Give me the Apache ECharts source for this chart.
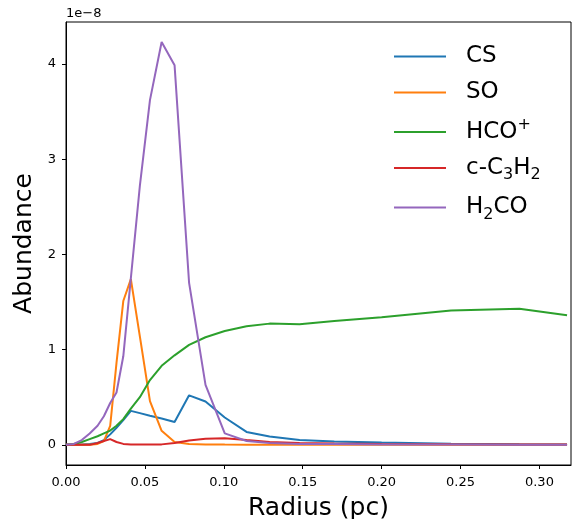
<!DOCTYPE html>
<html>
<head>
<meta charset="utf-8">
<script src="https://cdn.jsdelivr.net/npm/echarts@6/dist/echarts.min.js"></script>
<style>
  html, body { margin: 0; padding: 0; background: #fff; }
  #chart { width: 576px; height: 519px; }
</style>
</head>
<body>
<div id="chart"></div>
<script>
// Radial grid (pc) and abundances in units of 1e-8
const radius = [0, 0.005, 0.01, 0.015, 0.02, 0.024, 0.028, 0.032, 0.0363, 0.0411, 0.0468, 0.0532, 0.0606, 0.0688, 0.078, 0.0884, 0.1006, 0.1144, 0.129, 0.148, 0.17, 0.2, 0.244, 0.2873, 0.3175];
const csAbund   = [0, 0, 0.005, 0.01, 0.02, 0.05, 0.11, 0.18, 0.26, 0.357, 0.333, 0.306, 0.276, 0.24, 0.52, 0.455, 0.287, 0.136, 0.088, 0.05, 0.035, 0.025, 0.012, 0.006, 0.004];
const soAbund   = [0, 0, 0, 0, 0.01, 0.04, 0.2, 0.86, 1.51, 1.74, 1.14, 0.46, 0.147, 0.03, 0.01, 0.005, 0.003, 0.002, 0.002, 0.002, 0.002, 0.002, 0.002, 0.002, 0.002];
const hcoAbund  = [0, 0.01, 0.03, 0.06, 0.09, 0.12, 0.15, 0.2, 0.27, 0.38, 0.5, 0.68, 0.83, 0.94, 1.05, 1.13, 1.195, 1.245, 1.273, 1.266, 1.30, 1.34, 1.41, 1.43, 1.36];
const c3h2Abund = [0, 0, 0, 0, 0.02, 0.04, 0.06, 0.03, 0.01, 0.005, 0.003, 0.003, 0.005, 0.02, 0.045, 0.065, 0.07, 0.05, 0.03, 0.02, 0.015, 0.01, 0.006, 0.004, 0.003];
const h2coAbund = [0, 0.01, 0.05, 0.12, 0.2, 0.3, 0.44, 0.55, 0.93, 1.75, 2.72, 3.62, 4.23, 3.985, 1.7, 0.63, 0.12, 0.04, 0.02, 0.01, 0.008, 0.005, 0.003, 0.002, 0.002];

const speciesNames = ['CS', 'SO', 'HCO+', 'c-C3H2', 'H2CO'];
const xTicks = [0, 0.05, 0.10, 0.15, 0.20, 0.25, 0.30];
const yTicks = [0, 1, 2, 3, 4];

const colors = ['#1f77b4', '#ff7f0e', '#2ca02c', '#d62728', '#9467bd'];
const FONT = 'DejaVu Sans';

// Legend labels with chemical sub/superscripts
const legendRich = {
  CS: '{t|CS}',
  SO: '{t|SO}',
  'HCO+': '{t|HCO}{sup|+}',
  'c-C3H2': '{t|c-C}{sub|3}{t|H}{sub|2}',
  H2CO: '{t|H}{sub|2}{t|CO}'
};

const valueSets = [csAbund, soAbund, hcoAbund, c3h2Abund, h2coAbund];
const series = speciesNames.map((name, i) => ({
  name: name,
  type: 'line',
  data: radius.map((r, k) => [r, valueSets[i][k]]),
  showSymbol: false,
  symbol: 'none',
  lineStyle: { color: colors[i], width: 2 },
  itemStyle: { color: colors[i] },
  clip: true
}));

const chart = echarts.init(document.getElementById('chart'), null, { renderer: 'canvas' });
chart.setOption({
  animation: false,
  backgroundColor: '#ffffff',
  textStyle: { fontFamily: FONT },
  grid: {
    left: 66, right: 5, top: 22, bottom: 54,
    containLabel: false,
    outerBoundsMode: 'none',
    show: true, borderColor: '#000', borderWidth: 1, backgroundColor: 'transparent'
  },
  legend: {
    orient: 'vertical',
    left: 394,
    top: 45,
    padding: 0,
    itemGap: 13,
    itemWidth: 52,
    itemHeight: 2,
    icon: 'rect',
    data: speciesNames,
    formatter: n => legendRich[n],
    textStyle: {
      fontFamily: FONT,
      padding: [0, 0, 0, 15],
      rich: {
        t: { fontFamily: FONT, fontSize: 23, lineHeight: 30, color: '#000' },
        sub: { fontFamily: FONT, fontSize: 16, lineHeight: 18, verticalAlign: 'bottom', color: '#000' },
        sup: { fontFamily: FONT, fontSize: 16, lineHeight: 18, verticalAlign: 'top', color: '#000' }
      }
    }
  },
  xAxis: {
    type: 'value',
    min: 0,
    max: 0.32,
    name: 'Radius (pc)',
    nameLocation: 'middle',
    nameGap: 31,
    nameTextStyle: { fontFamily: FONT, fontSize: 25, color: '#000' },
    axisLine: { show: true, onZero: false, lineStyle: { color: '#000', width: 1 } },
    axisTick: { show: true, inside: false, length: 4, customValues: xTicks, lineStyle: { color: '#000' } },
    axisLabel: {
      customValues: xTicks,
      margin: 11,
      fontFamily: FONT, fontSize: 13, color: '#000',
      formatter: v => v.toFixed(2)
    },
    splitLine: { show: false }
  },
  yAxis: {
    type: 'value',
    min: -0.2115,
    max: 4.44,
    name: 'Abundance',
    nameLocation: 'middle',
    nameGap: 27,
    nameRotate: 90,
    nameTextStyle: { fontFamily: FONT, fontSize: 25, color: '#000' },
    axisLine: { show: true, onZero: false, lineStyle: { color: '#000', width: 1 } },
    axisTick: { show: true, inside: false, length: 4, customValues: yTicks, lineStyle: { color: '#000' } },
    axisLabel: {
      customValues: yTicks,
      margin: 10,
      fontFamily: FONT, fontSize: 13, color: '#000',
      formatter: v => String(v)
    },
    splitLine: { show: false }
  },
  graphic: [{
    type: 'text',
    left: 66,
    top: 7,
    style: { text: '1e\u22128', fontFamily: FONT, fontSize: 13, fill: '#000' }
  }],
  series: series
});
</script>
</body>
</html>
